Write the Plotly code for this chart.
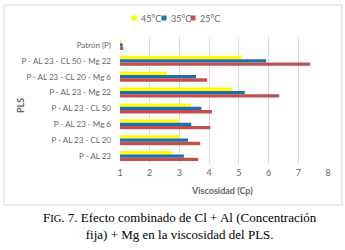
import plotly.graph_objects as go

categories = ["Patrón (P)", "P - AL 23 - CL 50 - Mg 22", "P - AL 23 - CL 20 - Mg 6",
              "P - AL 23 - Mg 22", "P - AL 23 - CL 50", "P - AL 23 - Mg 6",
              "P - AL 23 - CL 20", "P - AL 23"]
v45 = [1.05, 5.10, 2.58, 4.78, 3.37, 2.97, 3.00, 2.76]
v35 = [1.09, 5.92, 3.56, 5.20, 3.74, 3.40, 3.29, 3.15]
v25 = [1.11, 7.40, 3.93, 6.36, 4.09, 4.04, 3.70, 3.63]
series_names = ["45°C", "35°C", "25°C"]
colors = ["#FFFF00", "#1F6EB3", "#C0504D"]
x_ticks = [1, 2, 3, 4, 5, 6, 7, 8]

W, H = 345, 250
L, R, T, B = 120, 328, 37, 164

def px(x):
    return (x - L) / (R - L)

def py(y):
    return (B - y) / (B - T)

fig = go.Figure()
for name, vals, col in zip(series_names, [v45, v35, v25], colors):
    fig.add_trace(go.Bar(y=categories, x=vals, base=0, orientation="h", name=name,
                         marker=dict(color=col, line=dict(width=0)), showlegend=False))

gray = "#666666"
fig.update_layout(
    width=W, height=H, margin=dict(l=L, r=W - R, t=T, b=H - B),
    paper_bgcolor="white", plot_bgcolor="white",
    barmode="group", bargap=0.37, bargroupgap=0,
    font=dict(family="Lato", size=9, color=gray),
    xaxis=dict(range=[1, 8], tickvals=x_ticks, showgrid=True, gridcolor="#d9d9d9",
               gridwidth=1, zeroline=False, showline=False, ticks="", automargin=False,
               tickfont=dict(size=9, color=gray), ticklabelstandoff=2),
    yaxis=dict(autorange="reversed", showgrid=False, showline=False, ticks="", automargin=False,
               tickfont=dict(size=8, color=gray), ticklabelstandoff=8),
)

# chart border
fig.add_shape(type="rect", xref="paper", yref="paper", x0=px(4), x1=px(342), y0=py(205), y1=py(5),
              line=dict(color="#d9d9d9", width=1), fillcolor="rgba(0,0,0,0)", layer="below")

# manual legend
leg = [(131.5, 138.5), (161.5, 168.5), (190.5, 197.5)]
for (sx, tx), name, col in zip(leg, series_names, colors):
    fig.add_shape(type="rect", xref="paper", yref="paper", x0=px(sx), x1=px(sx + 5),
                  y0=py(20.5), y1=py(15.5), fillcolor=col, line=dict(width=0))
    fig.add_annotation(x=px(tx), y=py(18), xref="paper", yref="paper", text=name,
                       showarrow=False, xanchor="left", yanchor="middle",
                       font=dict(size=9, color=gray))

# axis titles
fig.add_annotation(x=px(222), y=py(190), xref="paper", yref="paper", text="<b>Viscosidad (Cp)</b>",
                   showarrow=False, xanchor="center", yanchor="middle", font=dict(size=9, color=gray))
fig.add_annotation(x=px(21), y=py(106), xref="paper", yref="paper", text="<b>PLS</b>",
                   showarrow=False, textangle=-90, xanchor="center", yanchor="middle",
                   font=dict(size=9, color=gray))

# caption
cap_font = dict(family="Liberation Serif", size=13, color="black")
fig.add_annotation(x=px(180), y=py(226), xref="paper", yref="paper",
                   text="F<span style='font-size:10.5px'>IG</span>. 7. Efecto combinado de Cl + Al (Concentración"
                        "<br>fija) + Mg en la viscosidad del PLS.",
                   showarrow=False, xanchor="center", yanchor="middle", align="center", font=cap_font)

fig.write_html("out.html", config={"displayModeBar": False},
               post_script="document.body.style.margin='0';")
